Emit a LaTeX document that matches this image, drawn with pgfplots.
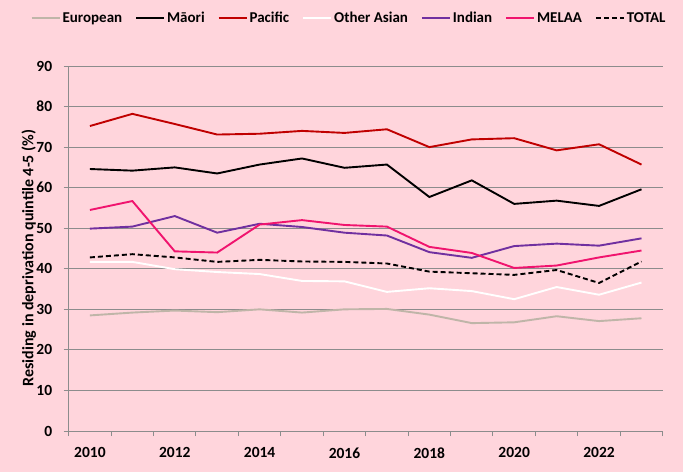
\documentclass[border=0pt]{standalone}
\usepackage{fontspec}
\setmainfont{Carlito}
\usepackage{pgfplots}
\usepackage{pgfplotstable}
\pgfplotsset{compat=1.18}
\definecolor{bgpink}{HTML}{FFD5DC}
\definecolor{euro}{HTML}{BFB5A8}
\definecolor{pac}{HTML}{C00000}
\definecolor{ind}{HTML}{7030A0}
\definecolor{melaa}{HTML}{F0146E}
\definecolor{gridg}{HTML}{8C8C8C}
\pgfplotstableread{
year eur mao pac oas ind mel tot
2010 28.5 64.6 75.2 41.7 49.9 54.5 42.8
2011 29.2 64.2 78.2 41.7 50.4 56.7 43.6
2012 29.7 65.0 75.7 39.9 53.0 44.3 42.8
2013 29.3 63.5 73.1 39.2 48.9 44.0 41.7
2014 30.0 65.7 73.3 38.7 51.1 50.9 42.2
2015 29.2 67.2 74.0 37.0 50.3 52.0 41.8
2016 30.0 64.9 73.5 36.9 48.9 50.8 41.7
2017 30.1 65.7 74.4 34.3 48.2 50.4 41.3
2018 28.7 57.7 70.0 35.2 44.1 45.4 39.3
2019 26.6 61.8 71.9 34.5 42.7 43.9 38.9
2020 26.8 56.0 72.2 32.5 45.6 40.2 38.5
2021 28.3 56.8 69.2 35.5 46.2 40.8 39.7
2022 27.1 55.5 70.7 33.6 45.7 42.8 36.5
2023 27.8 59.6 65.7 36.6 47.5 44.5 41.8
}\datatable
\begin{document}
\begin{tikzpicture}[x=1pt,y=1pt]
\fill[bgpink] (0,0) rectangle (683,472);
\path[use as bounding box] (0,0) rectangle (683,472);
\begin{axis}[
  at={(68.7pt,41pt)}, anchor=south west,
  scale only axis, width=594pt, height=365pt,
  xmin=2009.5, xmax=2023.5, ymin=0, ymax=90,
  ytick={0,10,...,90},
  xtick={2010,2012,...,2022},
  xticklabels={2010,2012,2014,2016,2018,2020,2022},
  minor xtick={2009.5,2010.5,...,2023.5},
  major x tick style={draw=none},
  tick align=outside,
  minor tick length=5pt, major tick length=5pt,
  axis x line*=bottom, axis y line*=left,
  axis line style={gridg, line width=1pt},
  every tick/.style={gridg, line width=1pt},
  minor x tick style={gridg, line width=1pt},
  ymajorgrids,
  grid style={gridg, line width=1pt},
  /pgf/number format/assume math mode=true,
  ticklabel style={font=\fontsize{15.5}{17}\selectfont\bfseries},
  yticklabel style={xshift=-8pt},
  xticklabel style={yshift=-8pt},
  ylabel={Residing in deprivation quintile 4-5 (\%)},
  every axis y label/.style={at={(axis description cs:-0.0673,0.474)},rotate=90,anchor=center,
    font=\fontsize{16}{18}\selectfont\bfseries},
  legend columns=7,
  legend style={at={(0.472,1.1315)}, anchor=center, draw=none, fill=none,
    font=\fontsize{15}{17}\selectfont\bfseries,
    /tikz/every odd column/.append style={column sep=0pt},
    /tikz/every even column/.append style={column sep=11pt}},
  legend image code/.code={\draw[#1] (0pt,0pt) -- (28pt,0pt);},
  every axis plot/.append style={line width=1.9pt, mark=none},
  clip=false,
]
\addplot[euro] table[x=year,y=eur]{\datatable};
\addlegendentry{European}
\addplot[black] table[x=year,y=mao]{\datatable};
\addlegendentry{Māori}
\addplot[pac] table[x=year,y=pac]{\datatable};
\addlegendentry{Pacific}
\addplot[white] table[x=year,y=oas]{\datatable};
\addlegendentry{Other Asian}
\addplot[ind] table[x=year,y=ind]{\datatable};
\addlegendentry{Indian}
\addplot[melaa] table[x=year,y=mel]{\datatable};
\addlegendentry{MELAA}
\addplot[black, dash pattern=on 5pt off 3pt] table[x=year,y=tot]{\datatable};
\addlegendentry{TOTAL}
\end{axis}
\end{tikzpicture}
\end{document}
